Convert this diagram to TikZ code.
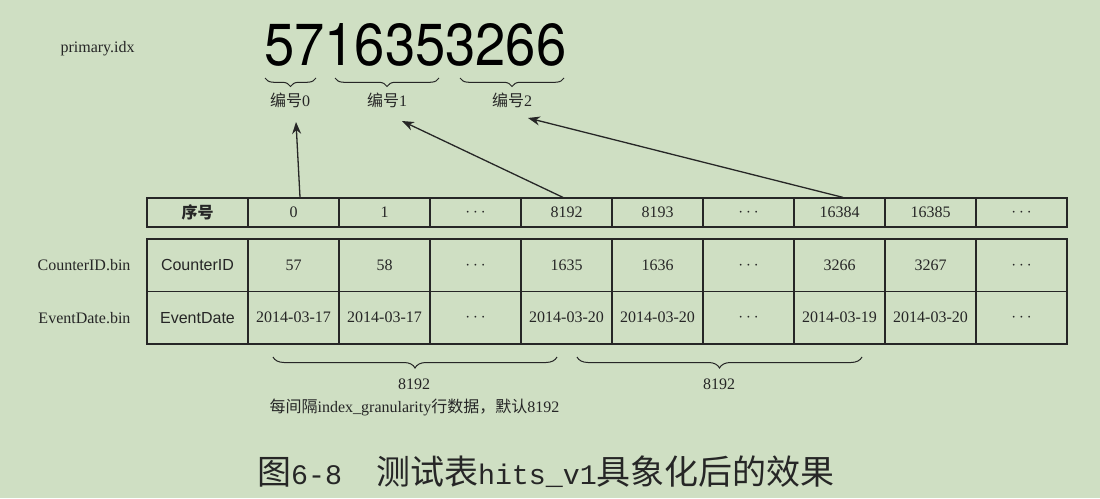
\documentclass[tikz,border=0pt]{standalone}
\usepackage{fontspec}
\setmainfont{Liberation Serif}
\newfontfamily\cjk{Noto Sans CJK SC}
\newfontfamily\helv{Liberation Sans}
\newfontfamily\heros{TeX Gyre Heros}
\newfontfamily\mono{Liberation Mono}
\usetikzlibrary{arrows.meta,decorations.pathreplacing,calc}
\definecolor{bg}{RGB}{207,223,195}
\definecolor{ink}{RGB}{38,38,38}
\newcommand{\zh}[1]{{\cjk #1}}
\begin{document}
\begin{tikzpicture}[x=1pt,y=-1pt,
  every node/.style={font=\fontsize{16}{19}\selectfont, text=ink},
  cell/.style={draw=ink, line width=1.2pt, inner sep=0pt},
  hdrcell/.style={cell, minimum width=91pt, minimum height=29pt},
  bodycell/.style={cell, minimum width=91pt, minimum height=52.5pt},
  tbrace/.style={draw=ink, line width=1pt, decorate, decoration={brace, mirror, amplitude=8.5pt}},
  bbrace/.style={draw=ink, line width=1pt, decorate, decoration={brace, mirror, amplitude=11pt}},
  arr/.style={draw=ink, line width=1.3pt, -{Stealth[length=12pt,width=9pt]}}
]
\fill[bg] (0,0) rectangle (1100,498);
\useasboundingbox (0,0) rectangle (1100,498);

% left labels
\node[anchor=west] (pidx) at (57,49) {primary.idx};
\node[anchor=east] (cbin) at (134,265.25) {CounterID.bin};
\node[anchor=east] (ebin) at (134,318.5) {EventDate.bin};

% big number
\node[anchor=north west, inner sep=0pt, text=black] (num) at (264,23) {\heros\resizebox{302pt}{42pt}{5716353266}};

% top braces and labels
\draw[tbrace] (265,78) -- (316,78);
\draw[tbrace] (335,78) -- (439,78);
\draw[tbrace] (460,78) -- (564,78);
\node (l0) at (290,100) {\zh{编号}0};
\node (l1) at (387,100) {\zh{编号}1};
\node (l2) at (512,100) {\zh{编号}2};

% header row
\node[cell, minimum width=101pt, minimum height=29pt] (h0) at (197.5,212.5) {\cjk\bfseries 序号};
\foreach \t [count=\i] in {0,1,$\cdots$,8192,8193,$\cdots$,16384,16385,$\cdots$}
  \node[hdrcell] (h\i) at ({248+91*\i-45.5},212.5) {\t};

% body rows
\node[cell, minimum width=101pt, minimum height=52.5pt] (c0) at (197.5,265.25) {\helv CounterID};
\foreach \t [count=\i] in {57,58,$\cdots$,1635,1636,$\cdots$,3266,3267,$\cdots$}
  \node[bodycell] (c\i) at ({248+91*\i-45.5},265.25) {\t};
\node[cell, minimum width=101pt, minimum height=52.5pt] (e0) at (197.5,317.75) {\helv EventDate};
\foreach \t [count=\i] in {2014-03-17,2014-03-17,$\cdots$,2014-03-20,2014-03-20,$\cdots$,2014-03-19,2014-03-20,$\cdots$}
  \node[bodycell] (e\i) at ({248+91*\i-45.5},317.75) {\t};

% arrows
\coordinate (tip0) at (296,122);
\coordinate (tip1) at (402,121);
\coordinate (tip2) at (528,118);
\draw[arr] ([xshift=6.5pt]h1.north) -- (tip0);
\draw[arr] ([xshift=-3.5pt]h4.north) -- (tip1);
\draw[arr] ([xshift=3.5pt]h7.north) -- (tip2);

% bottom braces
\draw[bbrace] (273,357) -- (557,357);
\draw[bbrace] (577,357) -- (862,357);
\node (g1) at (414,384) {8192};
\node (g2) at (719,384) {8192};
\node (note) at (414.5,407) {\zh{每间隔}index\_granularity\zh{行数据，默认}8192};

% caption
\node (cap) at (546,472) {\fontsize{34}{40}\selectfont\cjk 图{\mono\fontsize{28.3}{34}\selectfont 6-8}\hspace{1em}测试表{\mono\fontsize{28.3}{34}\selectfont hits\_v1}具象化后的效果};
\end{tikzpicture}
\end{document}
